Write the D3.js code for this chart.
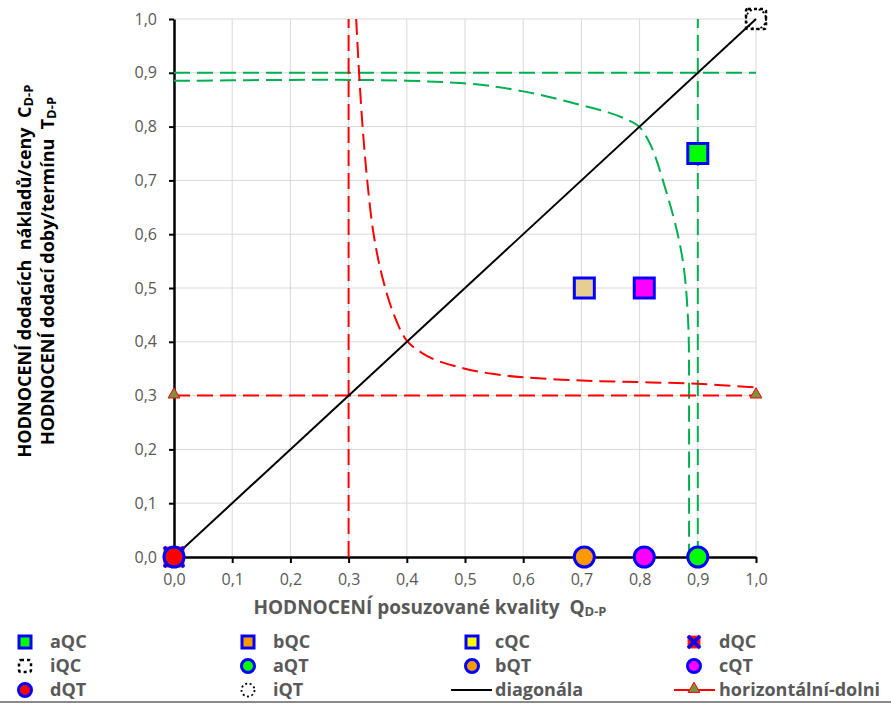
<!DOCTYPE html>
<html>
<head>
<meta charset="utf-8">
<script src="https://cdn.jsdelivr.net/npm/d3@7"></script>
<style>
  html, body { margin: 0; padding: 0; background: #fff; }
  svg { display: block; font-family: "Open Sans", Lato, sans-serif; }
  text { white-space: pre; }
</style>
</head>
<body>
<svg id="chart" width="891" height="704"></svg>
<script>
// Axis ticks
const tickValues = [0, 0.1, 0.2, 0.3, 0.4, 0.5, 0.6, 0.7, 0.8, 0.9, 1.0];
const tickLabels = ["0,0", "0,1", "0,2", "0,3", "0,4", "0,5", "0,6", "0,7", "0,8", "0,9", "1,0"];

// Point series (square = Q–C, circle = Q–T)
const pointNames = ["aQC", "bQC", "cQC", "dQC", "iQC", "aQT", "bQT", "cQT", "dQT", "iQT"];
const pointX = [0.9, 0.705, 0.808, 0, 1, 0.9, 0.705, 0.808, 0, 1];
const pointY = [0.75, 0.5, 0.5, 0, 1, 0, 0, 0, 0, 1];

// Reference lines
const diagonalX = [0, 1];
const diagonalY = [0, 1];
const lowerHorizX = [0, 1];
const lowerHorizY = [0.3, 0.3];
const lowerVertX = [0.3, 0.3];
const lowerVertY = [0, 1];
const upperHorizX = [0, 1];
const upperHorizY = [0.9, 0.9];
const upperVertX = [0.9, 0.9];
const upperVertY = [0, 1];

// Upper boundary curve (green)
const upperCurveX = [0, 0.1, 0.2, 0.3, 0.4, 0.5, 0.55, 0.6, 0.65, 0.7, 0.75, 0.775, 0.79, 0.8,
                     0.807, 0.815, 0.826, 0.84, 0.854, 0.866, 0.875, 0.88, 0.883, 0.885, 0.885, 0.885, 0.885];
const upperCurveY = [0.885, 0.886, 0.887, 0.887, 0.886, 0.881, 0.875, 0.866, 0.854, 0.84, 0.826, 0.815, 0.807, 0.8,
                     0.79, 0.775, 0.75, 0.7, 0.65, 0.6, 0.55, 0.5, 0.45, 0.4, 0.3, 0.15, 0];

// Lower boundary curve (red)
const lowerCurveX = [0.313, 0.318, 0.324, 0.332, 0.343, 0.358, 0.378, 0.4, 0.425, 0.45, 0.5, 0.55, 0.6, 0.7, 0.8, 0.9, 1.0];
const lowerCurveY = [1.0, 0.9, 0.8, 0.7, 0.6, 0.52, 0.45, 0.402, 0.38, 0.366, 0.35, 0.34, 0.334, 0.328, 0.325, 0.322, 0.315];

const svg = d3.select("#chart");
const x = d3.scaleLinear().domain([0, 1]).range([174, 756]);
const y = d3.scaleLinear().domain([0, 1]).range([557, 19]);

const GREEN = "#00B050", RED = "#FF0000", BLUE = "#0000FF", GREY = "#595959";

// Gridlines
const grid = svg.append("g");
grid.selectAll(".gx").data(tickValues.slice(1)).join("line")
  .attr("x1", d => x(d)).attr("x2", d => x(d)).attr("y1", y(0)).attr("y2", y(1))
  .attr("stroke", "#d9d9d9").attr("stroke-width", 1);
grid.selectAll(".gy").data(tickValues.slice(1)).join("line")
  .attr("x1", x(0)).attr("x2", x(1)).attr("y1", d => y(d)).attr("y2", d => y(d))
  .attr("stroke", "#d9d9d9").attr("stroke-width", 1);

// Axes
const fmt = d => tickLabels[tickValues.findIndex(v => Math.abs(v - d) < 1e-9)];
const xAxis = svg.append("g").attr("transform", `translate(0,${y(0)})`)
  .call(d3.axisBottom(x).tickValues(tickValues).tickFormat(fmt).tickSize(6).tickSizeOuter(0).tickPadding(11));
const yAxis = svg.append("g").attr("transform", `translate(${x(0)},0)`)
  .call(d3.axisLeft(y).tickValues(tickValues).tickFormat(fmt).tickSize(5).tickSizeOuter(0).tickPadding(12));
[xAxis, yAxis].forEach(a => {
  a.select(".domain").attr("stroke", "#000").attr("stroke-width", 2.5);
  a.selectAll(".tick line").attr("stroke", "#000").attr("stroke-width", 2);
  a.selectAll(".tick text").attr("fill", GREY).attr("font-size", 16).attr("font-family", "'Open Sans', sans-serif");
});

const line = d3.line().x(d => x(d[0])).y(d => y(d[1]));
const basis = d3.line().x(d => x(d[0])).y(d => y(d[1])).curve(d3.curveBasis);
const smooth = d3.line().x(d => x(d[0])).y(d => y(d[1])).curve(d3.curveCatmullRom.alpha(0.5));
const zip = (a, b) => a.map((v, i) => [v, b[i]]);
const dash = "16,7";

const lines = svg.append("g").attr("fill", "none");
lines.append("path").attr("d", line(zip(upperHorizX, upperHorizY))).attr("stroke", GREEN).attr("stroke-width", 2).attr("stroke-dasharray", dash);
lines.append("path").attr("d", line(zip(upperVertX, upperVertY))).attr("stroke", GREEN).attr("stroke-width", 2).attr("stroke-dasharray", dash);
lines.append("path").attr("d", basis(zip(upperCurveX, upperCurveY))).attr("stroke", GREEN).attr("stroke-width", 2).attr("stroke-dasharray", dash);
lines.append("path").attr("d", line(zip(lowerVertX, lowerVertY))).attr("stroke", RED).attr("stroke-width", 2).attr("stroke-dasharray", dash);
lines.append("path").attr("d", smooth(zip(lowerCurveX, lowerCurveY))).attr("stroke", RED).attr("stroke-width", 2).attr("stroke-dasharray", dash);
lines.append("path").attr("d", line(zip(lowerHorizX, lowerHorizY))).attr("stroke", RED).attr("stroke-width", 2).attr("stroke-dasharray", dash);
lines.append("path").attr("d", line(zip(diagonalX, diagonalY))).attr("stroke", "#000").attr("stroke-width", 2);

// Triangle markers on the lower horizontal limit
const tri = d3.symbol().type(d3.symbolTriangle).size(60);
svg.append("g").selectAll("path").data(zip(lowerHorizX, lowerHorizY)).join("path")
  .attr("d", tri).attr("transform", d => `translate(${x(d[0])},${y(d[1]) - 1})`)
  .attr("fill", "#77933C").attr("stroke", RED).attr("stroke-width", 1);

// Marker styles per point series
const pointFill = {aQC: "#00FF00", bQC: "#E8CD92", cQC: "#FF00FF", dQC: "#FF0000", iQC: "none",
                   aQT: "#00FF00", bQT: "#FF9900", cQT: "#FF00FF", dQT: "#FF0000", iQT: "none"};
const legendFill = Object.assign({}, pointFill, {bQC: "#FF9900", cQC: "#FFFF00"});

function drawMarker(g, name, cx, cy, s, fill) {
  const isSquare = name.endsWith("QC");
  const dotted = name.startsWith("i");
  const h = s / 2;
  if (isSquare) {
    if (name === "dQC") {
      g.append("rect").attr("x", cx - h).attr("y", cy - h).attr("width", s).attr("height", s)
        .attr("fill", fill).attr("stroke", "#FF3030").attr("stroke-width", 1);
      g.append("path").attr("d", `M${cx - h},${cy - h}L${cx + h},${cy + h}M${cx + h},${cy - h}L${cx - h},${cy + h}`)
        .attr("stroke", BLUE).attr("stroke-width", 3.5);
    } else if (dotted) {
      g.append("rect").attr("x", cx - h).attr("y", cy - h).attr("width", s).attr("height", s)
        .attr("rx", 2).attr("fill", "none").attr("stroke", "#000").attr("stroke-width", 2.5).attr("stroke-dasharray", "3,3");
    } else {
      g.append("rect").attr("x", cx - h).attr("y", cy - h).attr("width", s).attr("height", s)
        .attr("fill", fill).attr("stroke", BLUE).attr("stroke-width", 3);
    }
  } else {
    if (dotted) {
      g.append("circle").attr("cx", cx).attr("cy", cy).attr("r", h)
        .attr("fill", "none").attr("stroke", "#000").attr("stroke-width", 1.8).attr("stroke-dasharray", "2,2.5");
    } else {
      g.append("circle").attr("cx", cx).attr("cy", cy).attr("r", h)
        .attr("fill", fill).attr("stroke", BLUE).attr("stroke-width", 3);
    }
  }
}

// Plot points: squares first, then circles
const pts = svg.append("g");
pointNames.forEach((n, i) => drawMarker(pts, n, x(pointX[i]), y(pointY[i]), 20, pointFill[n]));

// Axis titles
svg.append("text").attr("x", 430).attr("y", 614).attr("text-anchor", "middle")
  .attr("fill", GREY).attr("font-weight", "bold").attr("font-size", 19)
  .call(t => {
    t.append("tspan").text("HODNOCENÍ posuzované kvality  Q");
    t.append("tspan").attr("font-size", 13).attr("dy", 2).text("D-P");
  });

const yTitles = [
  {pos: 31, main: "HODNOCENÍ dodacích  nákladů/ceny  C"},
  {pos: 54, main: "HODNOCENÍ dodací doby/termínu  T"}
];
yTitles.forEach(tl => {
  svg.append("text").attr("transform", `translate(${tl.pos},271) rotate(-90)`)
    .attr("text-anchor", "middle").attr("fill", "#000").attr("font-weight", "bold").attr("font-size", 18)
    .call(t => {
      t.append("tspan").text(tl.main);
      t.append("tspan").attr("font-size", 13).attr("dy", 2).text("D-P");
    });
});

// Legend
const legendItems = ["aQC", "bQC", "cQC", "dQC", "iQC", "aQT", "bQT", "cQT", "dQT", "iQT", "diagonála", "horizontální-dolni"];
const colMarkerX = [25, 248, 472, 694];
const colTextX = [50, 273, 495, 719];
const rowY = [642, 666, 690];
const leg = svg.append("g");
legendItems.forEach((name, i) => {
  const c = i % 4, r = Math.floor(i / 4);
  const cx = colMarkerX[c], cy = rowY[r];
  if (name === "diagonála") {
    leg.append("line").attr("x1", cx - 21).attr("x2", cx + 20).attr("y1", cy).attr("y2", cy)
      .attr("stroke", "#000").attr("stroke-width", 2);
  } else if (name === "horizontální-dolni") {
    leg.append("line").attr("x1", cx - 20).attr("x2", cx + 21).attr("y1", cy).attr("y2", cy)
      .attr("stroke", RED).attr("stroke-width", 2);
    leg.append("path").attr("d", tri).attr("transform", `translate(${cx},${cy - 1})`)
      .attr("fill", "#77933C").attr("stroke", RED).attr("stroke-width", 1);
  } else {
    drawMarker(leg, name, cx, cy, name.endsWith("QC") ? 12 : 13, legendFill[name]);
  }
  leg.append("text").attr("x", colTextX[c]).attr("y", cy + 6)
    .attr("fill", GREY).attr("font-weight", "bold").attr("font-size", 18).text(name);
});

// Bottom frame edge
svg.append("line").attr("x1", 0).attr("x2", 891).attr("y1", 702).attr("y2", 702)
  .attr("stroke", "#8a8a8a").attr("stroke-width", 2);
</script>
</body>
</html>
